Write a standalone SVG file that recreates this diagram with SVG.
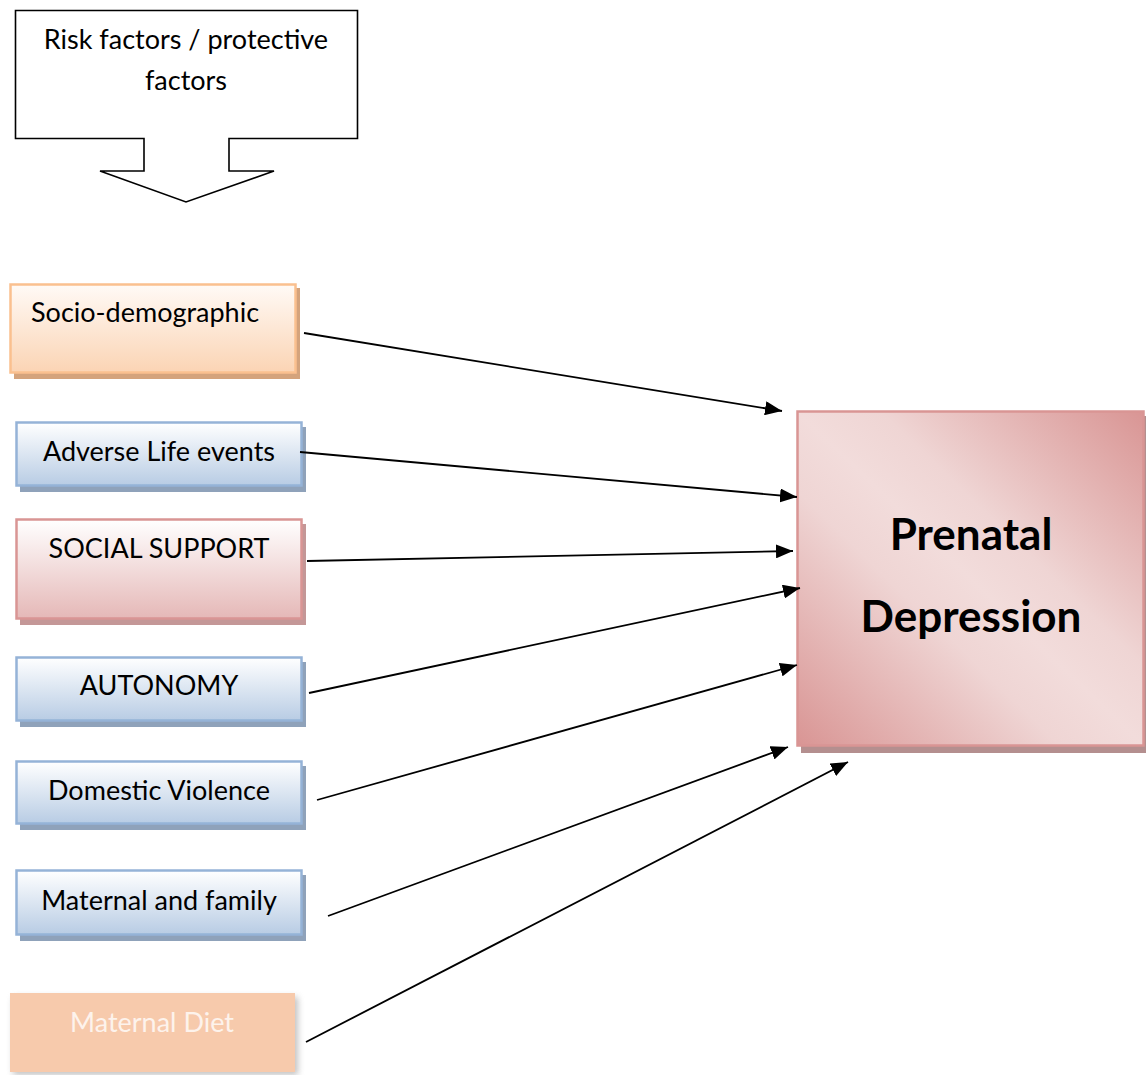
<svg xmlns="http://www.w3.org/2000/svg" width="1146" height="1075" viewBox="0 0 1146 1075">
  <style>
    text { font-family: Lato, "Open Sans", "Liberation Sans", sans-serif; fill: #000; }
    .lbl { font-size: 27px; text-anchor: middle; }
    .big { font-size: 44px; font-weight: bold; text-anchor: middle; }
    .edge { stroke: #000; stroke-width: 1.8; fill: none; marker-end: url(#arrow); }
    .blue { fill: url(#gBlue); stroke: #95b3d7; stroke-width: 2.5; }
    .blue-sh { fill: #8fa2ba; }
  </style>
  <defs>
    <marker id="arrow" markerUnits="userSpaceOnUse" markerWidth="18" markerHeight="14" refX="17" refY="7" orient="auto">
      <path d="M0,0 L17,7 L0,14 z" fill="#000"/>
    </marker>
    <linearGradient id="gBlue" x1="0" y1="0" x2="0" y2="1">
      <stop offset="0" stop-color="#ffffff"/>
      <stop offset="1" stop-color="#b8cce4"/>
    </linearGradient>
    <linearGradient id="gPeach" x1="0" y1="0" x2="0" y2="1">
      <stop offset="0" stop-color="#fffaf6"/>
      <stop offset="1" stop-color="#fbd4b4"/>
    </linearGradient>
    <linearGradient id="gRose" x1="0" y1="0" x2="0" y2="1">
      <stop offset="0" stop-color="#ffffff"/>
      <stop offset="1" stop-color="#e5b8b7"/>
    </linearGradient>
    <linearGradient id="gTarget" x1="1" y1="0" x2="0" y2="1">
      <stop offset="0" stop-color="#d99594"/>
      <stop offset="0.38" stop-color="#efd5d4"/>
      <stop offset="0.5" stop-color="#f2dcdb"/>
      <stop offset="0.62" stop-color="#efd5d4"/>
      <stop offset="1" stop-color="#d99594"/>
    </linearGradient>
    <filter id="soft" x="-10%" y="-10%" width="130%" height="130%">
      <feGaussianBlur stdDeviation="3"/>
    </filter>
  </defs>

  <!-- header callout with down arrow -->
  <g id="callout">
    <path d="M15.5,10.5 H357.5 V138.5 H229 V171 H274 L186,202 L100,171 H144 V138.5 H15.5 Z" fill="#fff" stroke="#000" stroke-width="1.6"/>
    <text class="lbl" x="186" y="49">Risk factors / protective</text>
    <text class="lbl" x="186" y="90">factors</text>
  </g>

  <!-- factor boxes -->
  <g id="socio-demographic">
    <rect x="14" y="288" width="286" height="91" fill="#d4a37c"/>
    <rect x="10.5" y="284.5" width="285" height="88" fill="url(#gPeach)" stroke="#fac08f" stroke-width="2.5"/>
    <text x="31" y="322" style="font-size:27px">Socio-demographic</text>
  </g>

  <g id="adverse-life-events">
    <rect class="blue-sh" x="20" y="427" width="286" height="65"/>
    <rect class="blue" x="16.5" y="422.5" width="285" height="63"/>
    <text class="lbl" x="159" y="461">Adverse Life events</text>
  </g>

  <g id="social-support">
    <rect x="20" y="524" width="286" height="101" fill="#c49797"/>
    <rect x="16.5" y="519.5" width="285" height="99" fill="url(#gRose)" stroke="#d99594" stroke-width="2.5"/>
    <text class="lbl" x="159" y="558">SOCIAL SUPPORT</text>
  </g>

  <g id="autonomy">
    <rect class="blue-sh" x="20" y="662" width="286" height="65"/>
    <rect class="blue" x="16.5" y="657.5" width="285" height="63"/>
    <text class="lbl" x="159" y="695">AUTONOMY</text>
  </g>

  <g id="domestic-violence">
    <rect class="blue-sh" x="20" y="766" width="286" height="64"/>
    <rect class="blue" x="16.5" y="761.5" width="285" height="62"/>
    <text class="lbl" x="159" y="800">Domestic Violence</text>
  </g>

  <g id="maternal-and-family">
    <rect class="blue-sh" x="20" y="875" width="286" height="66"/>
    <rect class="blue" x="16.5" y="870.5" width="285" height="64"/>
    <text class="lbl" x="159" y="910">Maternal and family</text>
  </g>

  <g id="maternal-diet">
    <rect x="13" y="997" width="285" height="78" fill="#9a9a9a" opacity="0.6" filter="url(#soft)"/>
    <rect x="10" y="993" width="285" height="79" fill="#f7caac"/>
    <text class="lbl" x="152" y="1032" style="fill:#fdf3ec">Maternal Diet</text>
  </g>

  <!-- outcome -->
  <g id="prenatal-depression">
    <rect x="801" y="416" width="347" height="337" fill="#b48f8f"/>
    <rect x="797.5" y="411.5" width="346" height="334" fill="url(#gTarget)" stroke="#d99594" stroke-width="2.5"/>
    <text class="big" x="971" y="550">Prenatal</text>
    <text class="big" x="971" y="632">Depression</text>
  </g>

  <!-- connectors -->
  <g id="connectors">
    <line class="edge" x1="304" y1="333" x2="782" y2="411"/>
    <line class="edge" x1="300" y1="452" x2="797" y2="497"/>
    <line class="edge" x1="307" y1="561" x2="793" y2="551"/>
    <line class="edge" x1="309" y1="693" x2="800" y2="588"/>
    <line class="edge" x1="317" y1="800" x2="797" y2="665"/>
    <line class="edge" x1="328" y1="916" x2="788" y2="747"/>
    <line class="edge" x1="306" y1="1042" x2="848" y2="762"/>
  </g>
</svg>
